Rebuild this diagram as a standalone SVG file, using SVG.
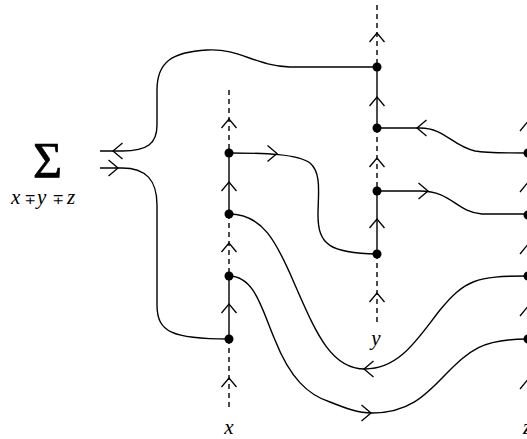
<svg xmlns="http://www.w3.org/2000/svg" xmlns:xlink="http://www.w3.org/1999/xlink" width="527" height="439" viewBox="0 0 527 439">
<style>
.bg{fill:#fff}
.ln{fill:none;stroke:#000;stroke-width:1.4}
.ds{fill:none;stroke:#000;stroke-width:1.4;stroke-dasharray:5 4}
.arr{fill:none;stroke:#000;stroke-width:1.3}
.dot{fill:#000}
.lab{font-family:"Liberation Serif","Times New Roman",serif;font-style:italic;font-size:21px;fill:#000}
.op{font-family:"DejaVu Serif",serif;font-style:normal;font-size:14px}
.sig{font-family:"Liberation Serif","Times New Roman",serif;font-size:50px;fill:#000;stroke:#000;stroke-width:0.7}
</style>
<defs>
<path id="up" d="M-7.5,9 L0,0 L7.5,9"/>
<path id="lf" d="M9.5,-8 L0,0 L9.5,8"/>
<path id="rt" d="M-9.5,-8 L0,0 L-9.5,8"/>
</defs>
<rect class="bg" x="0" y="0" width="527" height="439"/>

<g id="sum">
<text class="sig" x="47.5" y="177" text-anchor="middle">Σ</text>
<text class="lab" y="204"><tspan x="11">x</tspan><tspan class="op" x="24.5">∓</tspan><tspan x="37">y</tspan><tspan class="op" x="52.5">∓</tspan><tspan x="67">z</tspan></text>
</g>

<g id="line-x">
<path class="ds" d="M229,90 V153 M229,214 V276 M229,339 V410"/>
<path class="ln" d="M229,153 V214 M229,276 V339"/>
<g class="arr"><use xlink:href="#up" x="229" y="119"/><use xlink:href="#up" x="229" y="182"/><use xlink:href="#up" x="229" y="243"/><use xlink:href="#up" x="229" y="304"/><use xlink:href="#up" x="229" y="378"/></g>
<text class="lab" x="229" y="434" text-anchor="middle">x</text>
</g>

<g id="line-y">
<path class="ds" d="M377,5 V67 M377,128 V191 M377,254 V325"/>
<path class="ln" d="M377,67 V128 M377,191 V254"/>
<g class="arr"><use xlink:href="#up" x="377" y="33"/><use xlink:href="#up" x="377" y="97"/><use xlink:href="#up" x="377" y="158"/><use xlink:href="#up" x="377" y="219"/><use xlink:href="#up" x="377" y="293"/></g>
<text class="lab" x="376" y="345" text-anchor="middle">y</text>
</g>

<g id="line-z">
<path class="ds" d="M528,5 V410"/>
<g class="arr"><use xlink:href="#up" x="527.5" y="122"/><use xlink:href="#up" x="527.5" y="183"/><use xlink:href="#up" x="527.5" y="245"/><use xlink:href="#up" x="527.5" y="307"/><use xlink:href="#up" x="527.5" y="380"/></g>
<text class="lab" x="527" y="434" text-anchor="middle">z</text>
</g>

<g id="connectors">
<path class="ln" d="M377,67 H290 C255,66 240,48 207,50 C172,52 157,62 157,90 V125 C157,143 148,151 122,151 H100"/>
<path class="ln" d="M100,168 H122 C146,168 157,180 157,205 V305 C157,332 172,339 229,339"/>
<path class="ln" d="M229,153 C265,153 298,154 310,163 C322,173 318,195 318,215 C318,245 330,253 377,254"/>
<path class="ln" d="M229,214 C262,214 276,240 295,285 C315,330 330,369 365,369 C400,369 418,338 440,310 C465,280 476,276 527,276"/>
<path class="ln" d="M229,276 C255,276 262,310 275,340 C290,378 308,395 330,402 C345,408 358,413 372,413 C408,413 425,396 445,375 C470,350 482,339 527,339"/>
<path class="ln" d="M377,128 H420 C445,128 452,146 475,151 C486,153 500,153 527,153"/>
<path class="ln" d="M377,191 H420 C452,191 456,212 482,214 H527"/>
<g class="arr">
<use xlink:href="#lf" x="113" y="151"/>
<use xlink:href="#rt" x="118" y="168"/>
<use xlink:href="#rt" x="277" y="153.5"/>
<use xlink:href="#lf" x="364" y="369"/>
<use xlink:href="#rt" x="371" y="413"/>
<use xlink:href="#lf" x="417" y="128"/>
<use xlink:href="#rt" x="428" y="191"/>
</g>
</g>

<g id="dots">
<circle id="x1" class="dot" cx="229" cy="153" r="4.5"/>
<circle id="x2" class="dot" cx="229" cy="214" r="4.5"/>
<circle id="x3" class="dot" cx="229" cy="276" r="4.5"/>
<circle id="x4" class="dot" cx="229" cy="339" r="4.5"/>
<circle id="y1" class="dot" cx="377" cy="67" r="4.5"/>
<circle id="y2" class="dot" cx="377" cy="128" r="4.5"/>
<circle id="y3" class="dot" cx="377" cy="191" r="4.5"/>
<circle id="y4" class="dot" cx="377" cy="254" r="4.5"/>
<circle id="z1" class="dot" cx="528" cy="153" r="4.5"/>
<circle id="z2" class="dot" cx="528" cy="215" r="4.5"/>
<circle id="z3" class="dot" cx="528" cy="276" r="4.5"/>
<circle id="z4" class="dot" cx="528" cy="339" r="4.5"/>
</g>
</svg>
